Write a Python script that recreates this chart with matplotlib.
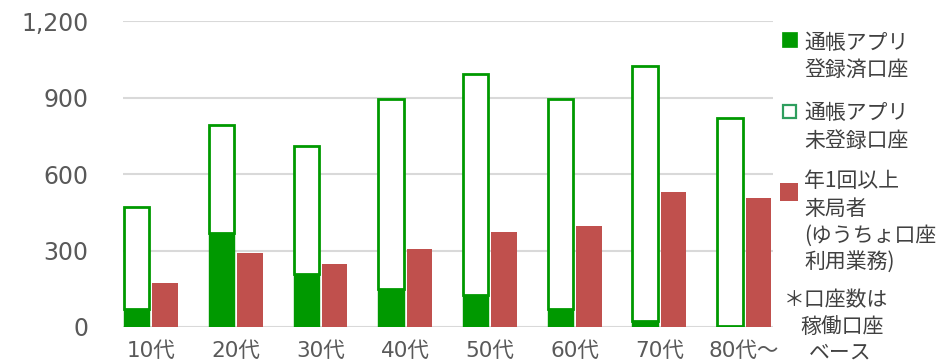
import numpy as np
import matplotlib
matplotlib.use('Agg')
import matplotlib.pyplot as plt
from matplotlib.patches import Rectangle

plt.rcParams['font.family'] = ['DejaVu Sans', 'Noto Sans CJK JP']

# --- data ---
ages        = ['10代', '20代', '30代', '40代', '50代', '60代', '70代', '80代〜']
registered  = [70, 369, 208, 149, 126, 71, 24, 5]          # 通帳アプリ登録済口座
totals      = [470, 792, 710, 894, 992, 894, 1024, 820]    # 稼働口座 total
visitors    = [173, 290, 247, 306, 373, 396, 529, 506]     # 年1回以上来局者
unregistered = [t - r for t, r in zip(totals, registered)] # 通帳アプリ未登録口座

yticks = [0, 300, 600, 900, 1200]

GREEN = '#009900'
RED   = '#c0504d'
GRID  = '#d9d9d9'
TXT   = '#595959'

W, H = 948, 363
fig = plt.figure(figsize=(W / 100, H / 100), dpi=100)
ax = fig.add_axes([123 / W, 1 - 327 / H, 650 / W, 306 / H])

x = np.arange(len(ages))
bw = 0.30
off = 0.168

ax.bar(x - off, registered, bw, color=GREEN, edgecolor=GREEN, linewidth=1.0, zorder=3)
ax.bar(x - off, unregistered, bw, bottom=registered, facecolor='white',
       edgecolor=GREEN, linewidth=2.0, zorder=3)
ax.bar(x + off, visitors, bw, color=RED, edgecolor='none', zorder=3)

ax.set_ylim(0, 1200)
ax.set_xlim(-0.33, 7.34)
ax.set_yticks(yticks)
ax.set_yticklabels([f'{v:,}' for v in yticks])
ax.set_xticks(x)
ax.set_xticklabels(ages)
ax.grid(axis='y', color=GRID, linewidth=1.5, zorder=0)
ax.set_axisbelow(True)
for s in ax.spines.values():
    s.set_visible(False)
ax.tick_params(axis='y', length=0, pad=25, labelsize=17, labelcolor=TXT)
ax.tick_params(axis='x', length=0, pad=10, labelsize=15.5, labelcolor=TXT)


# --- hand-placed legend (pixel coords -> figure fraction) ---
def fx(px):
    return px / W


def fy(py):
    return 1 - py / H


def square(x0, y0, x1, y1, **kw):
    fig.patches.append(Rectangle((fx(x0), fy(y1)), fx(x1) - fx(x0), fy(y0) - fy(y1),
                                 transform=fig.transFigure, **kw))


def lines(xp, ys, texts, **kw):
    for yp, t in zip(ys, texts):
        fig.text(fx(xp), fy(yp), t, va='center', ha='left', fontsize=15,
                 color='#404040', family=['Noto Sans CJK JP', 'DejaVu Sans'], **kw)


square(782, 32, 797, 47, facecolor=GREEN, edgecolor=GREEN, linewidth=0.5)
lines(804, [43, 70], ['通帳アプリ', '登録済口座'])

square(783, 105, 796, 118, facecolor='white', edgecolor='#2e9e5e', linewidth=1.6)
lines(804, [113, 141], ['通帳アプリ', '未登録口座'])

square(780, 183, 798, 201, facecolor=RED, edgecolor='none')
lines(804, [181, 209, 236, 262], ['年1回以上', '来局者', '(ゆうちょ口座', '利用業務)'])

lines(784, [300], ['＊口座数は'])
lines(800, [327], ['稼働口座'])
lines(809, [353], ['ベース'])

fig.savefig('out.png', dpi=100, facecolor='white')
